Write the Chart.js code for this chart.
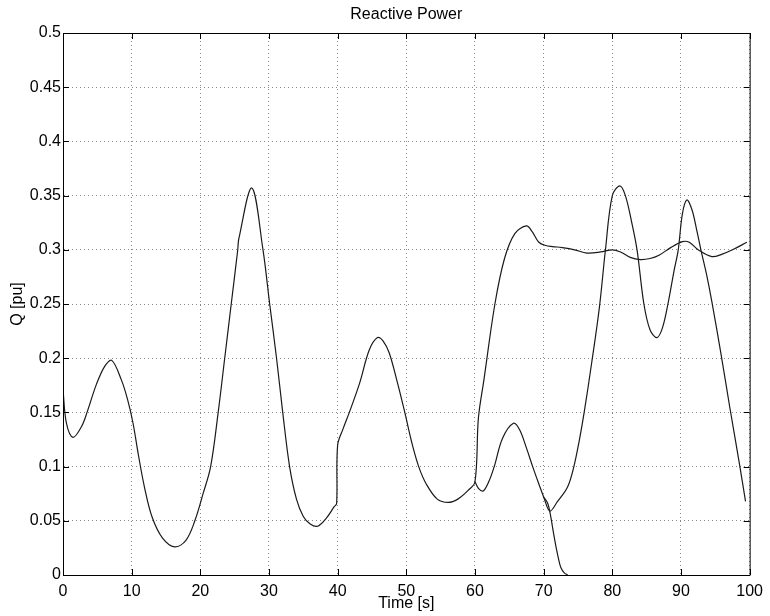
<!DOCTYPE html>
<html><head><meta charset="utf-8">
<script src="https://cdn.jsdelivr.net/npm/chart.js@4"></script>
<style>html,body{margin:0;padding:0;background:#fff;}</style>
</head><body>
<canvas id="c" width="770" height="616"></canvas>
<script>
const titleText = 'Reactive Power';
const xAxisTitle = 'Time [s]';
const yAxisTitle = 'Q [pu]';
const yTickLabels = ['0','0.05','0.1','0.15','0.2','0.25','0.3','0.35','0.4','0.45','0.5'];

// Main trace (0-100 s)
const timeA = [0,0.5,1.45,2.7,3.5,4.85,6.07,7.1,8.5,9.4,10.2,11.0,11.9,13.0,14.5,16.25,17.9,19.2,20.4,21.5,22.6,23.55,24.5,25.45,25.6,27.5,29.1,30.1,31.1,32.0,33.0,34.0,35.0,36.0,37.1,38.3,39.5,39.85,40.0,40.8,41.7,43.2,44.6,45.8,46.6,47.5,48.6,49.7,50.8,51.8,52.9,54.5,56.1,57.5,59.0,60.0,60.5,61.3,62.9,64.3,65.8,67.5,68.3,69.3,70.3,71.3,72.7,74.5,76.3,78.3,80.0,81.2,82.6,84.1,85.5,86.8,88.5,90.2,91.2,92.5,94.5,96.0,97.5,99.6];
const qA    = [0.171,0.140,0.127,0.137,0.150,0.1756,0.1925,0.198,0.180,0.162,0.140,0.110,0.080,0.053,0.034,0.026,0.032,0.050,0.075,0.100,0.150,0.200,0.250,0.300,0.310,0.357,0.301,0.250,0.200,0.150,0.100,0.070,0.054,0.047,0.045,0.052,0.063,0.066,0.120,0.135,0.150,0.177,0.2075,0.219,0.216,0.205,0.180,0.152,0.122,0.100,0.084,0.070,0.067,0.070,0.078,0.086,0.145,0.180,0.250,0.292,0.315,0.322,0.317,0.307,0.304,0.303,0.302,0.300,0.297,0.298,0.300,0.298,0.293,0.291,0.292,0.295,0.302,0.3075,0.307,0.300,0.2937,0.296,0.300,0.307];

// Second trace (60-100 s)
const timeB = [60.0,60.5,61.2,62.0,62.8,64.0,65.6,66.5,67.5,68.4,69.3,70.0,70.9,72.0,73.5,74.4,75.2,75.9,77.0,78.1,79.0,80.0,81.1,81.9,82.8,83.6,84.6,85.5,86.5,87.3,88.1,89.0,89.6,90.2,90.85,91.6,92.3,92.9,93.7,94.5,95.8,97.1,98.5,99.4];
const qB    = [0.086,0.080,0.0775,0.086,0.100,0.126,0.140,0.134,0.117,0.100,0.084,0.072,0.059,0.0676,0.0815,0.100,0.1245,0.150,0.196,0.246,0.300,0.350,0.359,0.350,0.326,0.300,0.250,0.226,0.219,0.228,0.250,0.281,0.300,0.333,0.346,0.337,0.318,0.300,0.278,0.252,0.205,0.155,0.103,0.068];

// Third trace (70-73.5 s)
const timeC = [70.0,70.6,71.0,71.4,71.8,72.2,72.5,73.0,73.5];
const qC    = [0.072,0.066,0.055,0.040,0.026,0.014,0.007,0.002,0.0];

// Initial step at t = 0
const timeD = [0,0];
const qD    = [0.077,0.171];

const zip = (xs, ys) => xs.map((x, i) => ({x, y: ys[i]}));
const FONT = 'Liberation Sans, Arial, Helvetica, sans-serif';

const boxTicks = {
  id: 'boxTicks',
  afterDraw(chart) {
    const {ctx, chartArea: a, scales: {x, y}} = chart;
    ctx.save();
    ctx.strokeStyle = '#000';
    ctx.lineWidth = 1;
    ctx.beginPath();
    ctx.rect(a.left + 0.5, a.top + 0.5, a.right - a.left, a.bottom - a.top);
    ctx.stroke();
    const L = 6;
    ctx.beginPath();
    x.ticks.forEach(t => {
      const px = Math.round(x.getPixelForValue(t.value)) + 0.5;
      ctx.moveTo(px, a.bottom); ctx.lineTo(px, a.bottom - L);
      ctx.moveTo(px, a.top); ctx.lineTo(px, a.top + L);
    });
    y.ticks.forEach(t => {
      const py = Math.round(y.getPixelForValue(t.value)) + 0.5;
      ctx.moveTo(a.left, py); ctx.lineTo(a.left + L, py);
      ctx.moveTo(a.right, py); ctx.lineTo(a.right - L, py);
    });
    ctx.stroke();
    ctx.restore();
  }
};

const lineStyle = {borderColor: '#1a1a1a', borderWidth: 1.2, pointRadius: 0, fill: false, tension: 0.35};

new Chart(document.getElementById('c'), {
  type: 'line',
  data: {
    datasets: [
      Object.assign({label: 'A', data: zip(timeA, qA)}, lineStyle),
      Object.assign({label: 'B', data: zip(timeB, qB)}, lineStyle),
      Object.assign({label: 'C', data: zip(timeC, qC)}, lineStyle),
      Object.assign({label: 'D', data: zip(timeD, qD)}, lineStyle, {tension: 0})
    ]
  },
  options: {
    responsive: false,
    devicePixelRatio: 1,
    animation: false,
    layout: {padding: {top: 0, right: 19, bottom: 0, left: 0}},
    plugins: {
      legend: {display: false},
      tooltip: {enabled: false},
      title: {display: true, text: titleText, fullSize: false, color: '#000',
              font: {family: FONT, size: 16, weight: 'normal'}, padding: {top: 5, bottom: 8.8}}
    },
    scales: {
      x: {
        type: 'linear', min: 0, max: 100,
        afterFit(s) { s.height = 41; },
        ticks: {stepSize: 10, color: '#000', font: {family: FONT, size: 16}, padding: 7, maxRotation: 0, autoSkip: false},
        grid: {color: '#8a8a8a', lineWidth: 1, drawTicks: false},
        border: {display: true, color: '#000', width: 1, dash: [1, 3]},
        title: {display: true, text: xAxisTitle, color: '#000', font: {family: FONT, size: 16}, padding: {top: 0, bottom: 3}}
      },
      y: {
        type: 'linear', min: 0, max: 0.5,
        afterFit(s) { s.width = 63; },
        ticks: {stepSize: 0.05, color: '#000', font: {family: FONT, size: 16}, padding: 2,
                callback: (v) => yTickLabels[Math.round(v / 0.05)]},
        grid: {color: '#8a8a8a', lineWidth: 1, drawTicks: false},
        border: {display: true, color: '#000', width: 1, dash: [1, 3]},
        title: {display: true, text: yAxisTitle, color: '#000', font: {family: FONT, size: 16}, padding: {top: 8, bottom: 8}}
      }
    }
  },
  plugins: [boxTicks]
});
</script>
</body></html>
